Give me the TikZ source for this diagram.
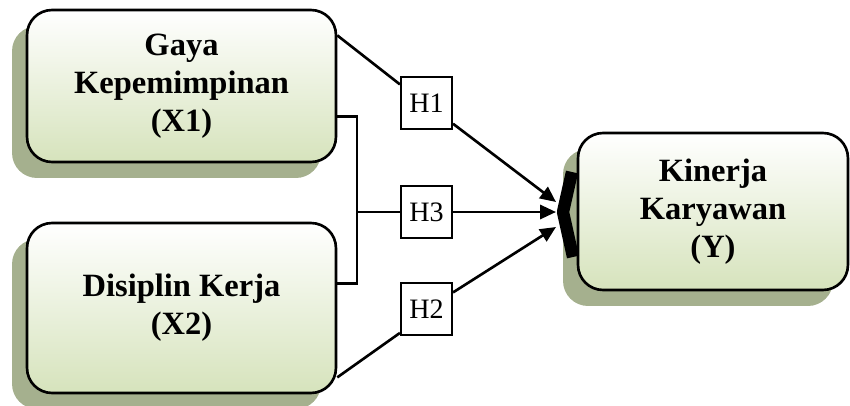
\documentclass[tikz,border=0pt]{standalone}
\usepackage{fontspec}
\setmainfont{Liberation Serif}
\usepackage{tikz}
\usetikzlibrary{arrows.meta}
\usetikzlibrary{shadows}
\definecolor{boxgreen}{RGB}{214,227,188}
\definecolor{shadegreen}{RGB}{165,176,142}

\begin{document}
\begin{tikzpicture}[x=0.02cm, y=-0.02cm,
            var/.style={draw, line width=1.5pt, rounded corners=0.5cm, top color=white, bottom color=boxgreen, align=center, font=\fontsize{18.5}{21.5}\selectfont\bfseries, general shadow={fill=shadegreen, shadow xshift=-0.3cm, shadow yshift=-0.32cm}},
            hyp/.style={draw, fill=white, line width=1.2pt, minimum width=1.02cm, minimum height=1.04cm, inner sep=0, font=\fontsize{16}{19}\selectfont},
            link/.style={line width=1.5pt},
            arr/.style={line width=1.5pt, -{Triangle[length=9pt, width=8pt]}}]
            \useasboundingbox (0,0) rectangle (850,406);
            \node[var, minimum width=6.18cm, minimum height=3.04cm] (x1) at (181.5,86) {Gaya\\Kepemimpinan\\(X1)};
            \node[var, minimum width=6.18cm, minimum height=3.4cm] (x2) at (181.5,308) {Disiplin Kerja\\(X2)};
            \node[var, minimum width=5.4cm, minimum height=3.14cm] (y) at (713,211.5) {Kinerja\\Karyawan\\(Y)};
            \node[hyp] (h1) at (426.5,103) {H1};
            \node[hyp] (h3) at (426.5,212) {H3};
            \node[hyp] (h2) at (426.5,309) {H2};
            \coordinate (j) at (357,212);
            \coordinate (t1) at (556,202);
            \coordinate (t3) at (556,212);
            \coordinate (t2) at (556,227);
            \draw[link] (x1.18) -- (h1.145);
            \draw[arr] (h1.-38) -- (t1);
            \draw[link] (x1.-11) -| (j) |- (x2.9);
            \draw[link] (j) -- (h3);
            \draw[arr] (h3) -- (t3);
            \draw[link] (x2.-24) -- (h2.222);
            \draw[arr] (h2.32) -- (t2);
            % bracket in front of Y
            \draw[line width=7pt, line join=bevel] (572,172) -- (563,212) -- (573,257);
        \end{tikzpicture}
\end{document}
